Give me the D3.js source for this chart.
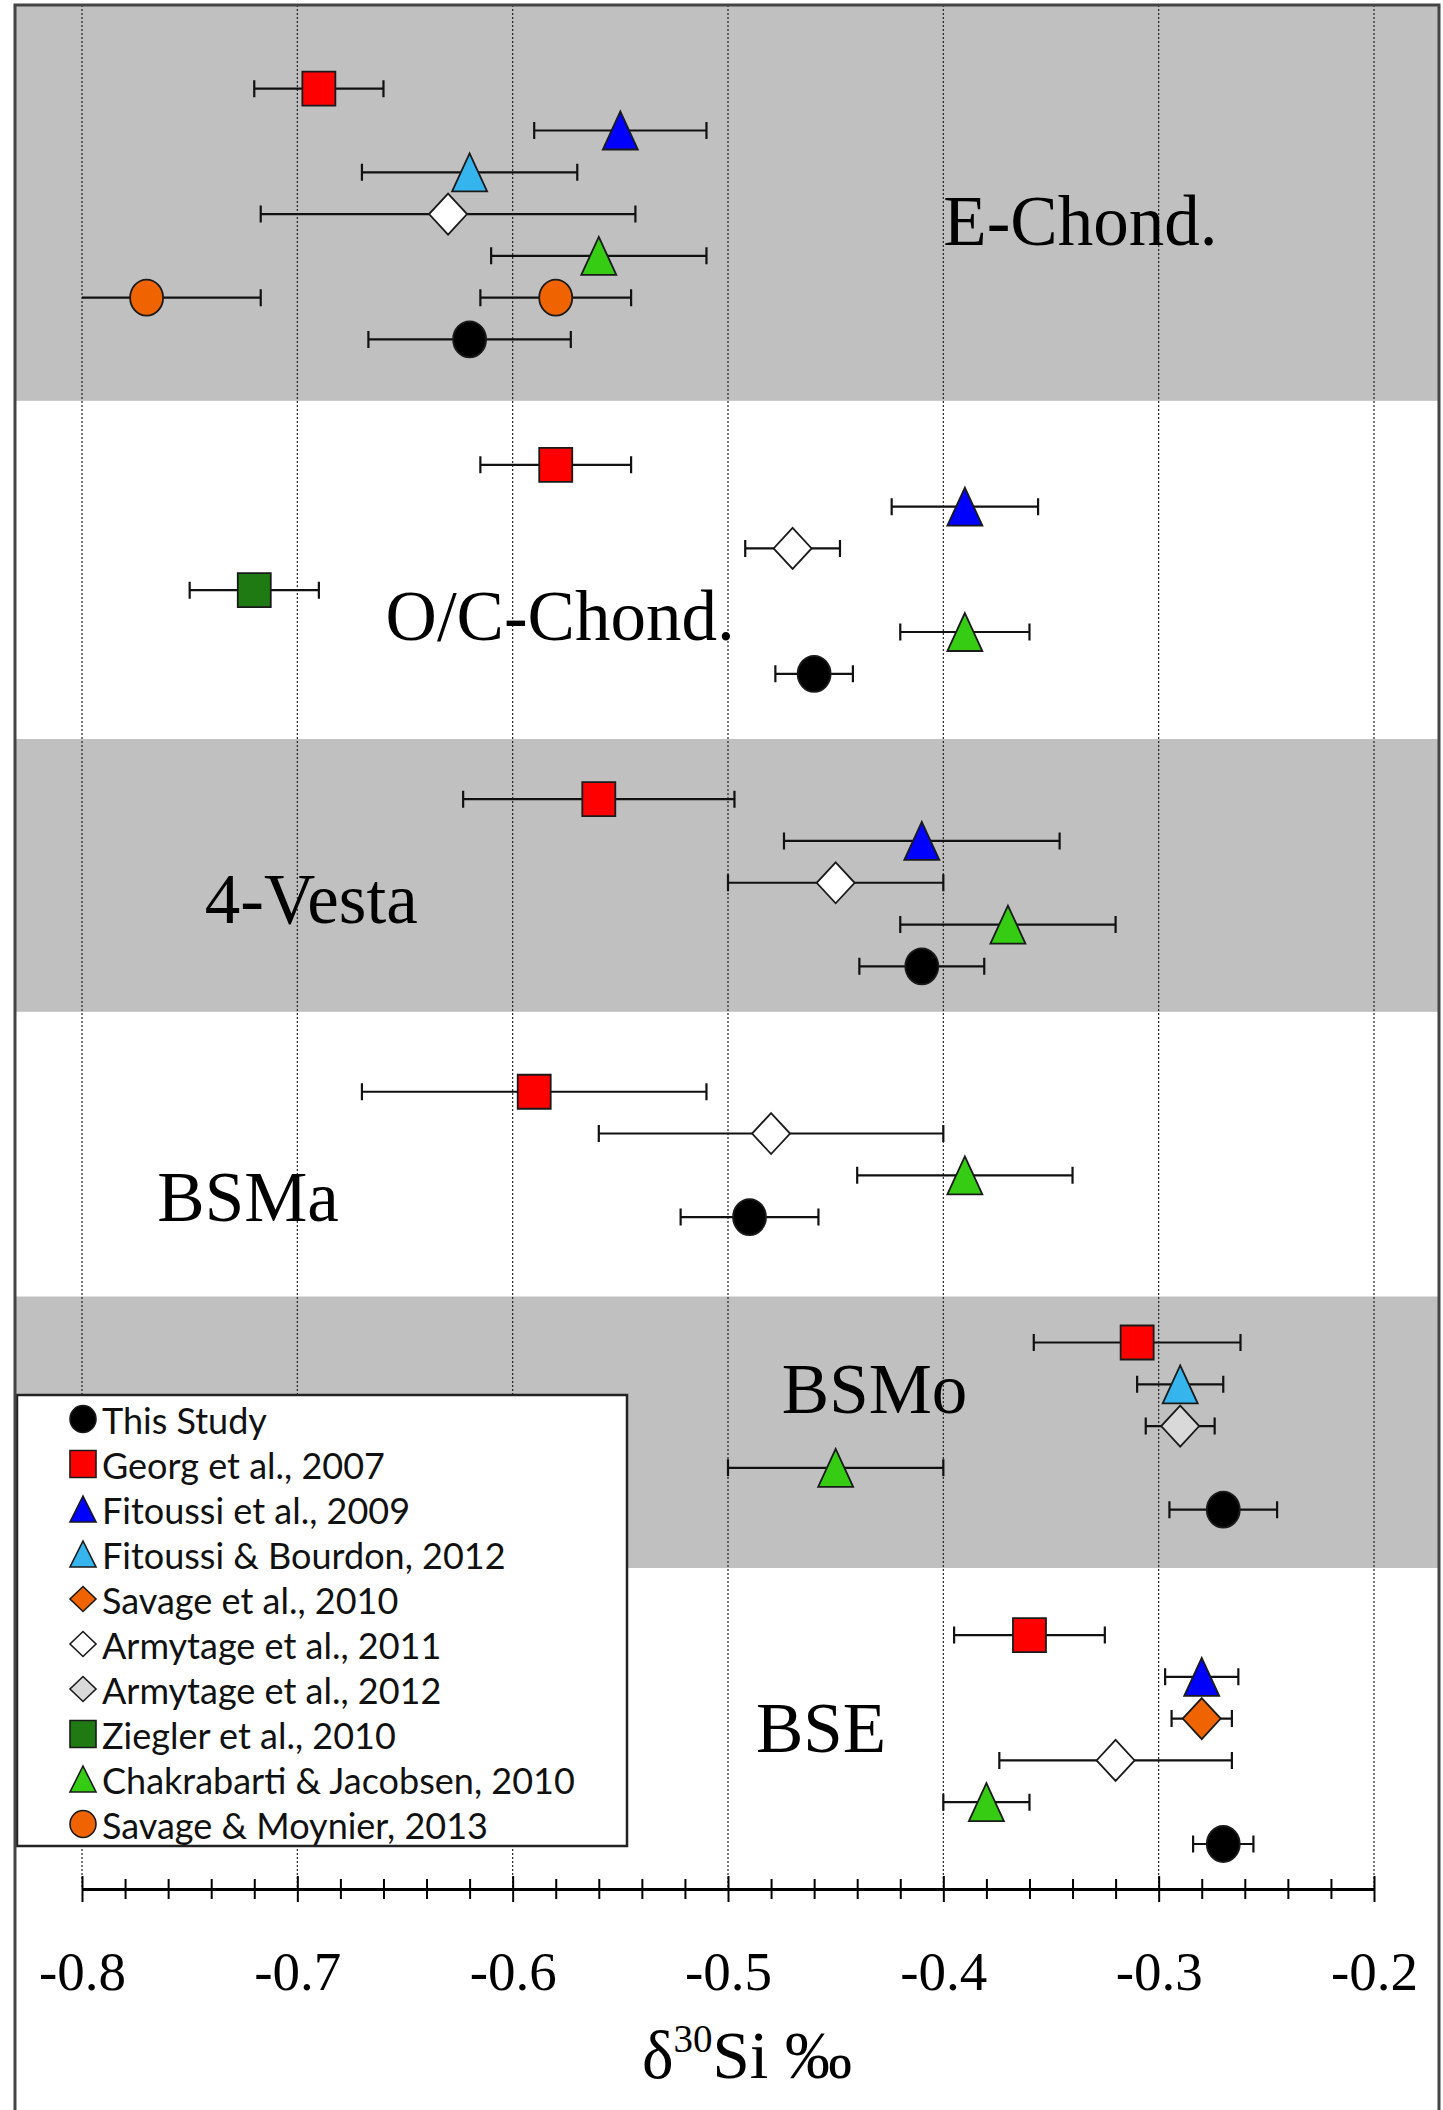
<!DOCTYPE html>
<html>
<head>
<meta charset="utf-8">
<script src="https://cdn.jsdelivr.net/npm/d3@7"></script>
<style>
  body { margin: 0; background: #fff; }
</style>
</head>
<body>
<svg id="chart" width="1443" height="2110"></svg>
<script>
const groups = ["E-Chond.", "O/C-Chond.", "4-Vesta", "BSMa", "BSMo", "BSE"];

const studies = [
  "This Study",
  "Georg et al., 2007",
  "Fitoussi et al., 2009",
  "Fitoussi & Bourdon, 2012",
  "Savage et al., 2010",
  "Armytage et al., 2011",
  "Armytage et al., 2012",
  "Ziegler et al., 2010",
  "Chakrabarti & Jacobsen, 2010",
  "Savage & Moynier, 2013"
];
const studyShapes = ["circle", "square", "triangle", "triangle", "diamond", "diamond", "diamond", "square", "triangle", "circle"];
const studyColors = ["#000000", "#ff0000", "#0000ff", "#35b4ee", "#f06400", "#ffffff", "#d9d9d9", "#1f7a14", "#36cc14", "#f06400"];

// one entry per measurement; row = line in the stack, counted from the top
const pointGroup = [0, 0, 0, 0, 0, 0, 0, 0, 1, 1, 1, 1, 1, 1, 2, 2, 2, 2, 2, 3, 3, 3, 3, 4, 4, 4, 4, 4, 5, 5, 5, 5, 5, 5];
const pointStudy = [1, 2, 3, 5, 8, 9, 9, 0, 1, 2, 5, 7, 8, 0, 1, 2, 5, 8, 0, 1, 5, 8, 0, 1, 3, 6, 8, 0, 1, 2, 4, 5, 8, 0];
const pointRow = [0, 1, 2, 3, 4, 5, 5, 6, 9, 10, 11, 12, 13, 14, 17, 18, 19, 20, 21, 24, 25, 26, 27, 30, 31, 32, 33, 34, 37, 38, 39, 40, 41, 42];
const pointValue = [-0.69, -0.55, -0.62, -0.63, -0.56, -0.77, -0.58, -0.62,
  -0.58, -0.39, -0.47, -0.72, -0.39, -0.46,
  -0.56, -0.41, -0.45, -0.37, -0.41,
  -0.59, -0.48, -0.39, -0.49,
  -0.31, -0.29, -0.29, -0.45, -0.27,
  -0.36, -0.28, -0.28, -0.32, -0.38, -0.27];
const pointErr = [0.03, 0.04, 0.05, 0.087, 0.05, 0.053, 0.035, 0.047,
  0.035, 0.034, 0.022, 0.03, 0.03, 0.018,
  0.063, 0.064, 0.05, 0.05, 0.029,
  0.08, 0.08, 0.05, 0.032,
  0.048, 0.02, 0.016, 0.05, 0.025,
  0.035, 0.017, 0.014, 0.054, 0.02, 0.014];

const tickValues = [-0.8, -0.7, -0.6, -0.5, -0.4, -0.3, -0.2];
const tickLabels = ["-0.8", "-0.7", "-0.6", "-0.5", "-0.4", "-0.3", "-0.2"];

const svg = d3.select("#chart");
const frame = { left: 15, right: 1439, top: 5 };
const axisY = 1889;
const serif = "'Liberation Serif', 'Times New Roman', serif";

const x = d3.scaleLinear().domain([-0.8, -0.2]).range([82, 1374]).clamp(true);
const y = d3.scaleLinear().domain([0, 42]).range([88.7, 1844]);

// band limits between groups, in row units
const bandBreaks = [7.47, 15.56, 22.09, 28.9, 35.4];
const bandTop = (i) => (i === 0 ? frame.top : y(bandBreaks[i - 1]));
const bandBottom = (i) => (i === groups.length - 1 ? axisY : y(bandBreaks[i]));

svg.append("g")
  .selectAll("rect")
  .data(groups)
  .enter()
  .append("rect")
  .attr("x", frame.left)
  .attr("width", frame.right - frame.left)
  .attr("y", (d, i) => bandTop(i))
  .attr("height", (d, i) => bandBottom(i) - bandTop(i))
  .attr("fill", (d, i) => (i % 2 === 0 ? "#c0c0c0" : "#ffffff"));

// dotted grid
svg.append("g")
  .selectAll("line")
  .data(tickValues)
  .enter()
  .append("line")
  .attr("x1", (d) => x(d))
  .attr("x2", (d) => x(d))
  .attr("y1", frame.top)
  .attr("y2", axisY)
  .attr("stroke", "#222")
  .attr("stroke-width", 1.2)
  .attr("stroke-dasharray", "2,2");

// group names
const labelPos = [[-0.4, 3.74], [-0.659, 13.19], [-0.743, 19.96], [-0.765, 27.09], [-0.475, 31.68], [-0.487, 39.79]];
svg.append("g")
  .selectAll("text")
  .data(groups)
  .enter()
  .append("text")
  .attr("x", (d, i) => x(labelPos[i][0]))
  .attr("y", (d, i) => y(labelPos[i][1]))
  .attr("font-family", serif)
  .attr("font-size", "71px")
  .attr("fill", "#000")
  .text((d) => d);

const markerPath = (shape, w, h) => {
  if (shape === "circle")
    return `M${-w / 2},0a${w / 2},${h / 2} 0 1,0 ${w},0a${w / 2},${h / 2} 0 1,0 ${-w},0Z`;
  if (shape === "square")
    return `M${-w / 2},${-h / 2}h${w}v${h}h${-w}Z`;
  if (shape === "triangle")
    return `M0,${-h / 2}L${w / 2},${h / 2}L${-w / 2},${h / 2}Z`;
  return `M0,${-h / 2}L${w / 2},0L0,${h / 2}L${-w / 2},0Z`;
};
const dataSize = { circle: [33, 36], square: [33, 34], triangle: [35, 38], diamond: [38, 41] };
const legendSize = { circle: [26, 27], square: [26, 27], triangle: [26, 26], diamond: [26, 25] };

const I = d3.range(pointValue.length);

// error bars
const bars = svg.append("g").attr("stroke", "#111").attr("stroke-width", 2.2).attr("fill", "none");
bars.selectAll(".err")
  .data(I)
  .enter()
  .append("path")
  .attr("class", "err")
  .attr("d", (i) => {
    const lo = pointValue[i] - pointErr[i];
    const hi = pointValue[i] + pointErr[i];
    const yy = y(pointRow[i]);
    let p = `M${x(lo)},${yy}H${x(hi)}`;
    if (lo >= -0.8) p += `M${x(lo)},${yy - 8.5}V${yy + 8.5}`;
    if (hi <= -0.2) p += `M${x(hi)},${yy - 8.5}V${yy + 8.5}`;
    return p;
  });

// markers
svg.append("g")
  .selectAll(".mark")
  .data(I)
  .enter()
  .append("path")
  .attr("class", "mark")
  .attr("transform", (i) => `translate(${x(pointValue[i])},${y(pointRow[i])})`)
  .attr("d", (i) => {
    const s = studyShapes[pointStudy[i]];
    return markerPath(s, dataSize[s][0], dataSize[s][1]);
  })
  .attr("fill", (i) => studyColors[pointStudy[i]])
  .attr("stroke", "#1a1a1a")
  .attr("stroke-width", 1.8);

// legend
const legend = svg.append("g");
legend.append("rect")
  .attr("x", 17)
  .attr("y", 1395)
  .attr("width", 610)
  .attr("height", 451)
  .attr("fill", "#fff")
  .attr("stroke", "#222")
  .attr("stroke-width", 2.5);

const entry = legend.selectAll(".entry")
  .data(studies)
  .enter()
  .append("g")
  .attr("class", "entry")
  .attr("transform", (d, i) => `translate(83,${1419 + i * 45})`);

entry.append("path")
  .attr("d", (d, i) => markerPath(studyShapes[i], legendSize[studyShapes[i]][0], legendSize[studyShapes[i]][1]))
  .attr("fill", (d, i) => studyColors[i])
  .attr("stroke", "#1a1a1a")
  .attr("stroke-width", 1.6);

entry.append("text")
  .attr("x", 19)
  .attr("y", 15)
  .attr("font-family", "Lato, 'Open Sans', sans-serif")
  .attr("font-size", "36px")
  .attr("fill", "#111")
  .text((d) => d);

// x axis with crossing ticks
const minorValues = d3.range(0, 31).map((k) => -0.8 + k * 0.02).filter((v, k) => k % 5 !== 0);

const minor = svg.append("g")
  .attr("transform", `translate(0,${axisY})`)
  .call(d3.axisBottom(x).tickValues(minorValues).tickFormat("").tickSize(10).tickSizeOuter(0));
minor.select(".domain").remove();
minor.selectAll(".tick line").attr("y1", -10).attr("stroke-width", 2);

const major = svg.append("g")
  .attr("transform", `translate(0,${axisY})`)
  .call(d3.axisBottom(x).tickValues(tickValues).tickFormat((d, i) => tickLabels[i]).tickSize(13).tickSizeOuter(0));
major.select(".domain").attr("stroke-width", 2.8);
major.selectAll(".tick line").attr("y1", -13).attr("stroke-width", 2);
major.selectAll(".tick text")
  .attr("y", 101)
  .attr("dy", 0)
  .attr("font-family", serif)
  .attr("font-size", "55px")
  .attr("fill", "#000");

// axis title
const title = svg.append("text")
  .attr("x", 747)
  .attr("y", 2078)
  .attr("text-anchor", "middle")
  .attr("font-family", serif)
  .attr("font-size", "67px")
  .attr("fill", "#000");
title.append("tspan").text("δ");
title.append("tspan").attr("font-size", "39px").attr("dy", -26).text("30");
title.append("tspan").attr("dy", 26).text("Si ‰");

// outer frame
svg.append("path")
  .attr("d", `M${frame.left},2112V${frame.top}H${frame.right}V2112`)
  .attr("fill", "none")
  .attr("stroke", "#444")
  .attr("stroke-width", 3);
</script>
</body>
</html>
